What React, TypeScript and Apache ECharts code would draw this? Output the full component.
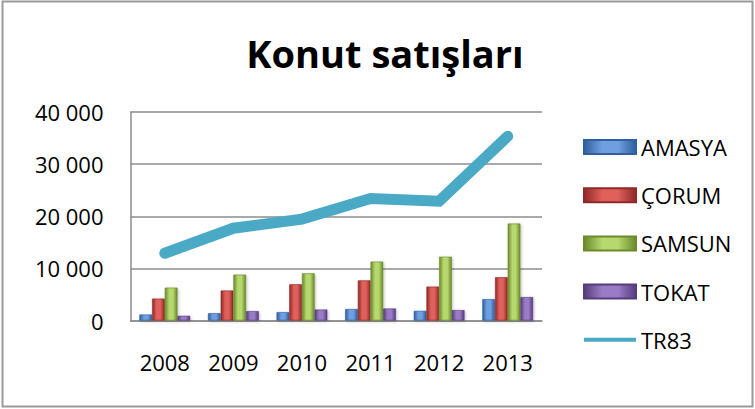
import React, { useEffect, useRef } from "react";
import * as echarts from "echarts";

const years = ["2008", "2009", "2010", "2011", "2012", "2013"];
const amasya = [1150, 1400, 1600, 2200, 1850, 4100];
const corum = [4200, 5750, 6950, 7700, 6500, 8300];
const samsun = [6300, 8800, 9050, 11300, 12250, 18600];
const tokat = [900, 1800, 2100, 2300, 2000, 4500];
const tr83 = [12900, 17700, 19450, 23400, 22900, 35350];
const yTicks = [0, 10000, 20000, 30000, 40000];

const FONT = "'Open Sans', 'Noto Sans', sans-serif";

function grad(dark: string, light: string) {
  return new echarts.graphic.LinearGradient(0, 0, 1, 0, [
    { offset: 0, color: dark },
    { offset: 0.35, color: light },
    { offset: 0.65, color: light },
    { offset: 1, color: dark },
  ]);
}

function barSeries(name: string, data: number[], dark: string, light: string) {
  return {
    name,
    type: "bar",
    data,
    barGap: "0%",
    barCategoryGap: "26%",
    itemStyle: {
      color: grad(dark, light),
      borderColor: dark,
      borderWidth: 0.6,
      shadowColor: "rgba(0,0,0,0.25)",
      shadowBlur: 3,
      shadowOffsetX: 1,
      shadowOffsetY: 1,
    },
  };
}

export default function App() {
  const ref = useRef<HTMLDivElement>(null);
  useEffect(() => {
    if (!ref.current) return;
    const chart = echarts.init(ref.current, null, { renderer: "svg" });
    chart.setOption({
      animation: false,
      backgroundColor: "#ffffff",
      title: {
        text: "Konut satışları",
        left: 380,
        textAlign: "center",
        top: 29,
        textStyle: { fontFamily: FONT, fontSize: 38, fontWeight: "bold", color: "#000" },
      },
      graphic: [
        {
          type: "rect",
          shape: { x: 2.5, y: 1.5, width: 750, height: 405 },
          style: { fill: "none", stroke: "#9a9a9a", lineWidth: 2 },
          silent: true,
        },
      ],
      legend: {
        orient: "vertical",
        left: 583,
        top: 136,
        padding: 0,
        itemWidth: 52,
        itemHeight: 14,
        itemGap: 26.2,
        itemTextGap: 4,
        textStyle: { fontFamily: FONT, fontSize: 22, lineHeight: 20, color: "#000" },
        data: [
          { name: "AMASYA", icon: "rect" },
          { name: "ÇORUM", icon: "rect" },
          { name: "SAMSUN", icon: "rect" },
          { name: "TOKAT", icon: "rect" },
          { name: "TR83", icon: "path://M0,0 L52,0 L52,4 L0,4 Z" },
        ],
      },
      grid: { left: 130.5, right: 213, top: 112, bottom: 88.5, containLabel: false },
      xAxis: {
        type: "category",
        data: years,
        axisLine: { show: true, lineStyle: { color: "#8c8c8c", width: 1.5 } },
        axisTick: { show: false },
        axisLabel: { fontFamily: FONT, fontSize: 22, color: "#000", margin: 30 },
      },
      yAxis: {
        type: "value",
        min: yTicks[0],
        max: yTicks[yTicks.length - 1],
        interval: 10000,
        axisLine: { show: true, lineStyle: { color: "#8c8c8c", width: 1.5 } },
        axisTick: { show: false },
        splitLine: { lineStyle: { color: "#8c8c8c", width: 1.5 } },
        axisLabel: {
          fontFamily: FONT,
          fontSize: 22,
          color: "#000",
          margin: 27,
          formatter: (v: number) => {
            const s = String(v);
            return s.length > 3 ? s.slice(0, s.length - 3) + " " + s.slice(-3) : s;
          },
        },
      },
      series: [
        barSeries("AMASYA", amasya, "#2f5f9e", "#6f9fe0"),
        barSeries("ÇORUM", corum, "#8e2a27", "#e0605c"),
        barSeries("SAMSUN", samsun, "#6a8a2c", "#b6d86e"),
        barSeries("TOKAT", tokat, "#553d7c", "#9a7cc6"),
        {
          name: "TR83",
          type: "line",
          data: tr83,
          symbol: "none",
          z: 5,
          lineStyle: { color: "#4aaac5", width: 11, cap: "round", join: "miter" },
          itemStyle: { color: "#4aaac5" },
        },
      ],
    });
    return () => chart.dispose();
  }, []);
  return (
    <div
      ref={ref}
      style={{ position: "absolute", left: 0, top: 0, width: 755, height: 409 }}
    />
  );
}
